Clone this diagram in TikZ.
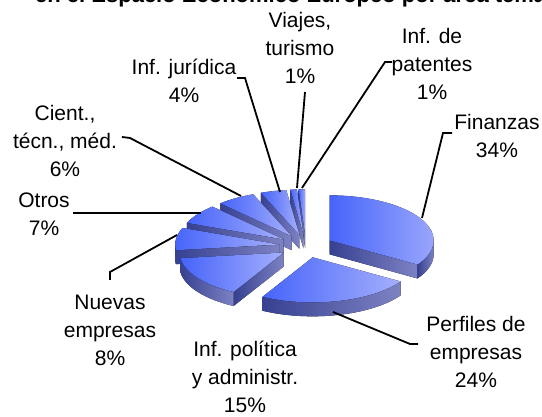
\documentclass[tikz,border=0pt]{standalone}
\usepackage{fontspec}
\setmainfont{Liberation Sans}
\usetikzlibrary{calc}
\definecolor{topL}{RGB}{70,100,250}
\definecolor{topR}{RGB}{165,175,252}
\definecolor{sideL}{RGB}{55,65,145}
\definecolor{sideR}{RGB}{125,130,195}
\newcommand\myradface[2]{%
  \fill[sideface] (#1) -- ++(#2:104pt and 45pt) -- ++(0,-14) -- ($(#1)+(0,-14)$) -- cycle;}
\newcommand\mydrawslice[7]{%
  \pgfmathsetmacro\smid{(#2+#3)/2}%
  \coordinate (#1) at ($(C)+(\smid:27.04pt and 11.7pt)$);%
  \ifnum#6=1 \myradface{#1}{#2}\fi
  \ifnum#7=1 \myradface{#1}{#3}\fi
  \ifdim #4pt<#5pt
    \fill[sideface] ($(#1)+(#4:104pt and 45pt)$) arc[start angle=#4,end angle=#5,x radius=104pt,y radius=45pt] -- ++(0,-14) arc[start angle=#5,end angle=#4,x radius=104pt,y radius=45pt] -- cycle;
  \fi
  \fill[topface] (#1) -- ++(#2:104pt and 45pt) arc[start angle=#2,end angle=#3,x radius=104pt,y radius=45pt] -- cycle;
}
\begin{document}
\begin{tikzpicture}[x=1pt,y=1pt,
  topface/.style={left color=topL,right color=topR},
  sideface/.style={left color=sideL,right color=sideR},
  lbl/.style={font=\fontsize{21}{28}\selectfont,align=center,inner sep=0pt},
  leader/.style={line width=1.8pt,black}]
\useasboundingbox (0,0) rectangle (542,417);
\fill[white] (0,0) rectangle (542,417);
\node[anchor=base west,inner sep=0pt,font=\fontsize{22}{26}\selectfont\bfseries] (title) at (35,414) {en el Espacio Económico Europeo por área temática};
\coordinate (C) at (306,171);
% slices back to front
\mydrawslice{patentes}{90}{93.6}{0}{0}{0}{1}
\mydrawslice{viajes}{93.6}{97.2}{0}{0}{0}{1}
\mydrawslice{juridica}{97.2}{111.6}{0}{0}{0}{1}
\mydrawslice{cient}{111.6}{133.2}{0}{0}{0}{1}
\mydrawslice{otros}{133.2}{158.4}{0}{0}{0}{1}
\mydrawslice{finanzas}{-32.4}{90}{-32.4}{0}{1}{0}
\mydrawslice{nuevas}{158.4}{187.2}{180}{187.2}{0}{1}
\mydrawslice{politica}{187.2}{241.2}{187.2}{241.2}{0}{1}
\mydrawslice{perfiles}{241.2}{327.6}{241.2}{327.6}{0}{0}
% labels
\node[lbl] (lviajes) at (300,369) {Viajes,\\turismo\\1\%};
\node[lbl] (lpatentes) at (432,353) {Inf. de\\patentes\\1\%};
\node[lbl] (ljuridica) at (184,336) {Inf. jurídica\\4\%};
\node[lbl] (lcient) at (65,276) {Cient.,\\técn., méd.\\6\%};
\node[lbl] (lotros) at (44,203) {Otros\\7\%};
\node[lbl] (lnuevas) at (110,87) {Nuevas\\empresas\\8\%};
\node[lbl] (lpolitica) at (245,40) {Inf. política\\y administr.\\15\%};
\node[lbl] (lperfiles) at (476,65) {Perfiles de\\empresas\\24\%};
\node[lbl] (lfinanzas) at (497,281) {Finanzas\\34\%};
% leader end points
\coordinate (fA) at (452,284); \coordinate (fB) at (443,284); \coordinate (fC) at (422,199);
\coordinate (pA) at (333,105); \coordinate (pB) at (410,73); \coordinate (pC) at (418,73);
\coordinate (nA) at (110,137); \coordinate (nB) at (110,145); \coordinate (nC) at (177,182);
\coordinate (oA) at (73,204); \coordinate (oB) at (201,204);
\coordinate (cA) at (122,280); \coordinate (cB) at (130,279); \coordinate (cC) at (241,221);
\coordinate (jA) at (237,339); \coordinate (jB) at (245,339); \coordinate (jC) at (280,225);
\coordinate (vA) at (305,325); \coordinate (vB) at (297,229);
\coordinate (tA) at (392,355); \coordinate (tB) at (385,355); \coordinate (tC) at (302,229);
\draw[leader] (fA) -- (fB) -- (fC);
\draw[leader] (pA) -- (pB) -- (pC);
\draw[leader] (nA) -- (nB) -- (nC);
\draw[leader] (oA) -- (oB);
\draw[leader] (cA) -- (cB) -- (cC);
\draw[leader] (jA) -- (jB) -- (jC);
\draw[leader] (vA) -- (vB);
\draw[leader] (tA) -- (tB) -- (tC);
\end{tikzpicture}
\end{document}
